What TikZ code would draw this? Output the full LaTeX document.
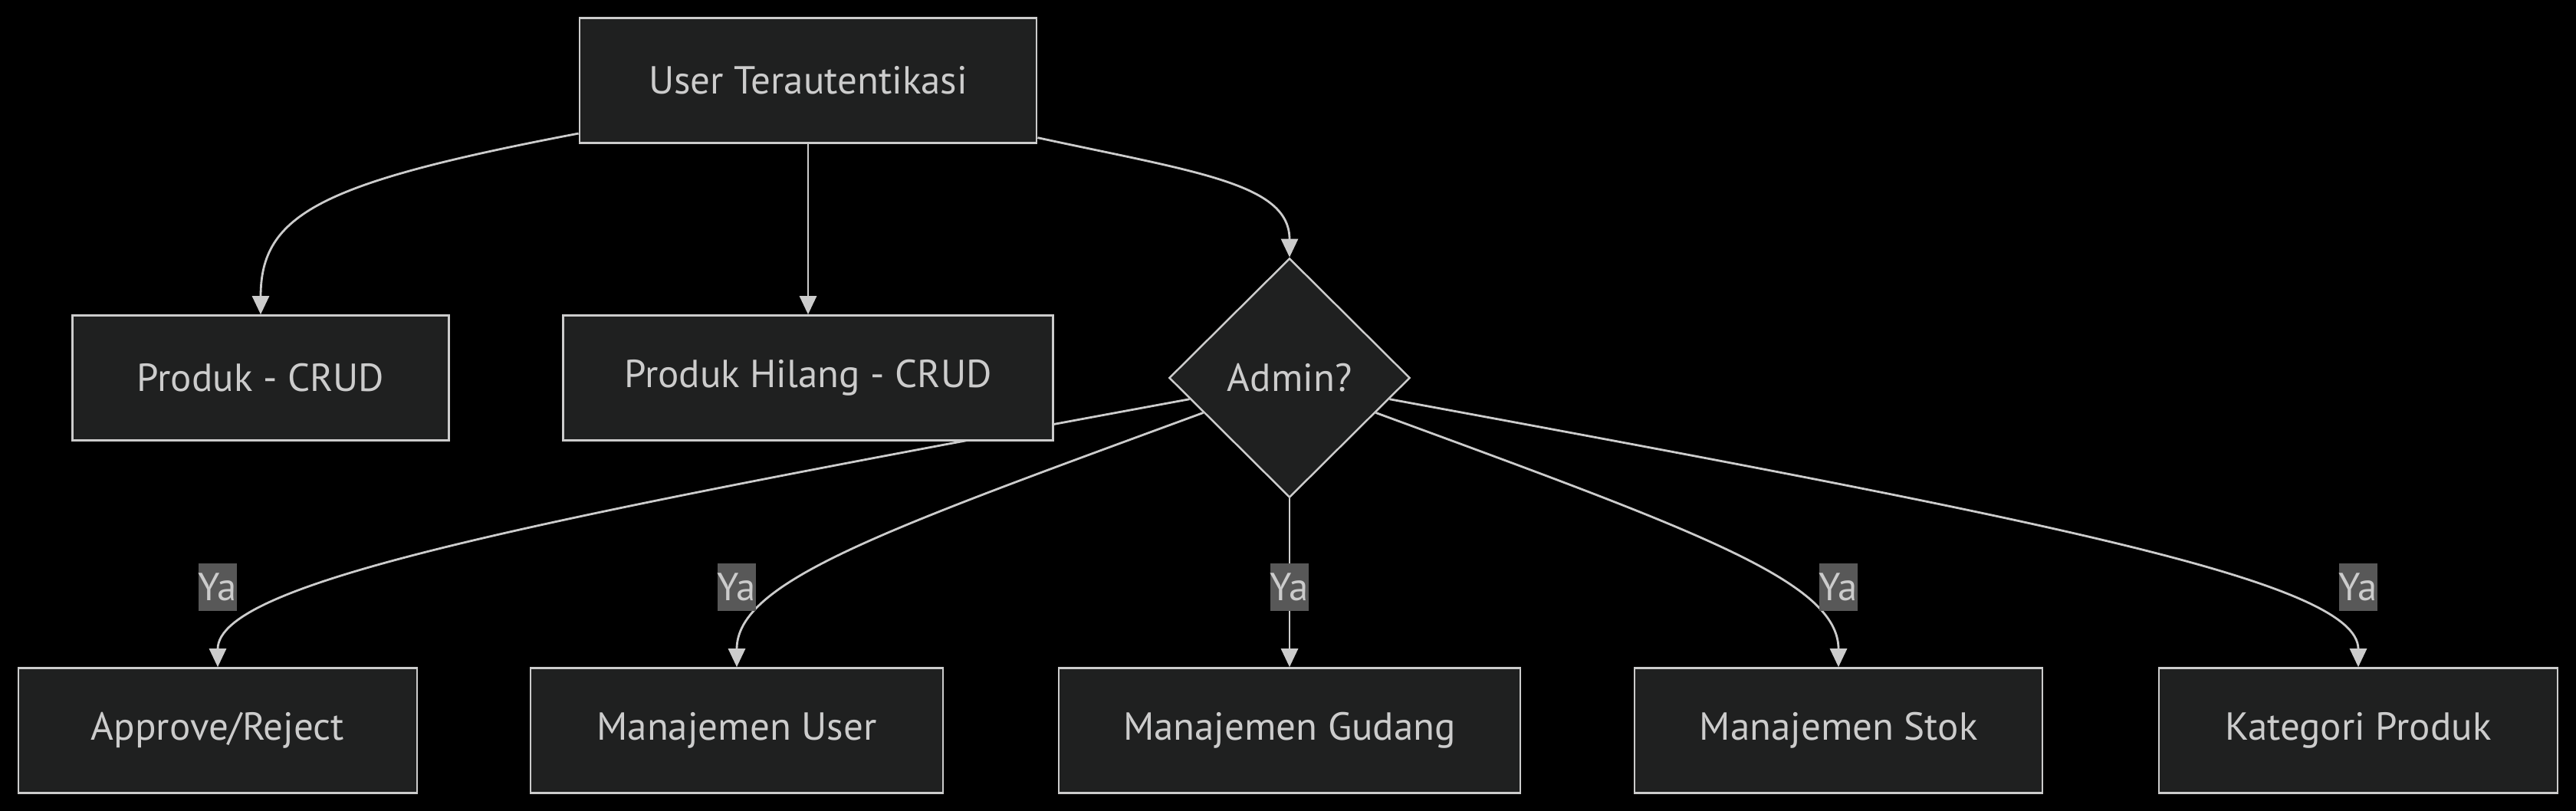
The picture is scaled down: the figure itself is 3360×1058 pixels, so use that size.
\documentclass[tikz,border=0pt]{standalone}
\usepackage{fontspec}
\setmainfont{PT Sans}
\usetikzlibrary{shapes.geometric,arrows.meta}
\definecolor{nodefill}{HTML}{1F2020}
\definecolor{linegray}{HTML}{CCCCCC}
\definecolor{labelgray}{HTML}{585858}
\pgfdeclarelayer{bg}
\pgfdeclarelayer{links}
\pgfsetlayers{bg,links,main}

\begin{document}
\begin{tikzpicture}[x=0.01cm, y=0.01cm, font=\fontsize{14.5pt}{17pt}\selectfont,
    box/.style={draw=linegray, fill=nodefill, text=linegray, line width=0.7pt, minimum height=1.63cm},
    decision/.style={diamond, aspect=1, draw=linegray, fill=nodefill, text=linegray, line width=0.7pt, minimum width=3.14cm, minimum height=3.12cm, inner sep=0pt},
    yalbl/.style={fill=labelgray, text=linegray, inner sep=0pt, minimum height=0.62cm, minimum width=0.47cm},
    link/.style={draw=linegray, line width=0.8pt, -{Triangle[width=0.22cm, length=0.24cm]}}]
  \begin{pgfonlayer}{bg}
    \fill[black] (0,0) rectangle (3360,1058); % Background
  \end{pgfonlayer}
  % Nodes
  \node[box, minimum width=5.96cm] (user) at (1054,953) {User Terautentikasi};
  \node[box, minimum width=4.91cm] (crud) at (340,565) {Produk - CRUD};
  \node[box, minimum width=6.39cm] (hilang) at (1054,565) {Produk Hilang - CRUD};
  \node[decision] (admin) at (1682,565) {Admin?};
  \node[box, minimum width=5.20cm] (approve) at (284,105) {Approve/Reject};
  \node[box, minimum width=5.38cm] (muser) at (961,105) {Manajemen User};
  \node[box, minimum width=6.02cm] (gudang) at (1682,105) {Manajemen Gudang};
  \node[box, minimum width=5.32cm] (stok) at (2398,105) {Manajemen Stok};
  \node[box, minimum width=5.20cm] (kategori) at (3076,105) {Kategori Produk};
  % Connectors
  \begin{pgfonlayer}{links}
    \draw[link] (user.193) .. controls +(-336,-64) and +(0,131) .. (crud.north);
    \draw[link] (user.south) -- (hilang.north);
    \draw[link] (user.346) .. controls +(208,-45) and +(0,96) .. (admin.north);
    \draw[link] (admin.192) .. controls +(-851,-157) and +(0,112) .. (approve.north);
    \draw[link] (admin.202) .. controls +(-416,-153) and +(0,112) .. (muser.north);
    \draw[link] (admin.south) -- (gudang.north);
    \draw[link] (admin.338) .. controls +(416,-153) and +(0,112) .. (stok.north);
    \draw[link] (admin.348) .. controls +(851,-157) and +(0,112) .. (kategori.north);
  \end{pgfonlayer}
  % Labels
  \node[yalbl] (ya1) at (approve.north |- 0,292) {Ya};
  \node[yalbl] (ya2) at (muser.north |- 0,292) {Ya};
  \node[yalbl] (ya3) at (gudang.north |- 0,292) {Ya};
  \node[yalbl] (ya4) at (stok.north |- 0,292) {Ya};
  \node[yalbl] (ya5) at (kategori.north |- 0,292) {Ya};
\end{tikzpicture}
\end{document}
